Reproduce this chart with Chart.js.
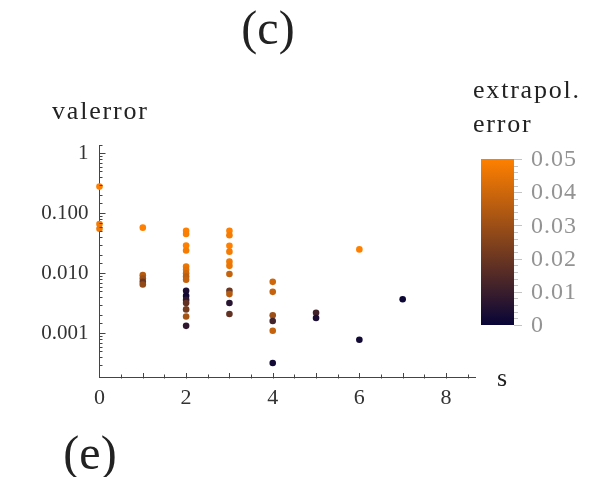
<!DOCTYPE html>
<html>
<head>
<meta charset="utf-8">
<script src="https://cdn.jsdelivr.net/npm/chart.js@4/dist/chart.umd.min.js"></script>
<style>
  html, body { margin: 0; padding: 0; background: #fff; }
  #wrap { width: 594px; height: 477px; }
</style>
</head>
<body>
<div id="wrap"><canvas id="grafico"></canvas></div>
<script>
// s value of each point
const sValues = [
  0, 0, 0,
  1, 1, 1, 1, 1,
  2, 2, 2, 2, 2, 2, 2, 2, 2, 2, 2, 2, 2, 2, 2, 2,
  3, 3, 3, 3, 3, 3, 3, 3, 3, 3, 3,
  4, 4, 4, 4, 4, 4,
  5, 5,
  6, 6,
  7
];
// valerror (y, log scale)
const valErrors = [
  0.278, 0.066, 0.055,
  0.0575, 0.0093, 0.0082, 0.0072, 0.0065,
  0.051, 0.045, 0.029, 0.024, 0.0129, 0.0114, 0.010, 0.0088, 0.0078,
  0.0051, 0.0042, 0.0036, 0.0032, 0.0025, 0.0019, 0.00133,
  0.051, 0.043, 0.0286, 0.0229, 0.0156, 0.0133, 0.0097, 0.0051, 0.0045, 0.0032, 0.0021,
  0.0072, 0.0049, 0.0020, 0.0016, 0.0011, 0.00032,
  0.0022, 0.0018,
  0.025, 0.00078,
  0.0037
];
// extrapolation error (colour)
const extrapErrors = [
  0.05, 0.048, 0.047,
  0.05, 0.035, 0.03, 0.02, 0.028,
  0.05, 0.049, 0.05, 0.048, 0.046, 0.044, 0.04, 0.036, 0.038,
  0.004, 0.002, 0.008, 0.018, 0.022, 0.032, 0.008,
  0.05, 0.048, 0.05, 0.048, 0.047, 0.046, 0.038, 0.02, 0.035, 0.006, 0.018,
  0.04, 0.038, 0.03, 0.012, 0.038, 0.002,
  0.012, 0.004,
  0.05, 0.002,
  0.001
];
const yTickLabels = { "0": "1", "-1": "0.100", "-2": "0.010", "-3": "0.001" };
const xTickLabels = [0, 2, 4, 6, 8];
const cbTicks = [0, 0.01, 0.02, 0.03, 0.04, 0.05];
const cbLabels = ["0", "0.01", "0.02", "0.03", "0.04", "0.05"];

const lowCol = [8, 5, 55];
const highCol = [255, 128, 0];
function colourFor(v) {
  const t = Math.max(0, Math.min(1, v / 0.05));
  const c = lowCol.map((a, i) => Math.round(a + (highCol[i] - a) * t));
  return "rgb(" + c.join(",") + ")";
}

const serif = "'Liberation Serif', 'DejaVu Serif', serif";
const points = sValues.map((s, i) => ({ x: s, y: valErrors[i] }));

const decorations = {
  id: "decorations",
  afterDraw(chart) {
    const ctx = chart.ctx;
    const xs = chart.scales.x, ys = chart.scales.y;
    const area = chart.chartArea;
    ctx.save();
    ctx.strokeStyle = "#444";
    ctx.lineWidth = 1;
    // y ticks (inside)
    ys.ticks.forEach(t => {
      const lg = Math.log10(t.value);
      const major = Math.abs(lg - Math.round(lg)) < 1e-6;
      const py = Math.round(ys.getPixelForValue(t.value)) + 0.5;
      if (py < area.top - 1) return;
      ctx.beginPath();
      ctx.moveTo(area.left, py);
      ctx.lineTo(area.left + (major ? 6 : 3), py);
      ctx.stroke();
    });
    // x ticks
    for (let v = 0.5; v <= xs.max; v += 0.5) {
      const px = Math.round(xs.getPixelForValue(v)) + 0.5;
      const major = Math.abs(v - Math.round(v)) < 1e-6;
      ctx.beginPath();
      ctx.moveTo(px, area.bottom + 1.5);
      ctx.lineTo(px, area.bottom - (major ? 4 : 2.5));
      ctx.stroke();
    }
    // colour bar
    const cbL = 481, cbR = 514, cbT = 159, cbB = 325;
    const g = ctx.createLinearGradient(0, cbB, 0, cbT);
    g.addColorStop(0, colourFor(0));
    g.addColorStop(1, colourFor(0.05));
    ctx.fillStyle = g;
    ctx.fillRect(cbL, cbT, cbR - cbL, cbB - cbT);
    ctx.strokeStyle = "#c4c4c4";
    for (let v = 0; v <= 0.0501; v += 0.002) {
      const py = Math.round(cbB - (cbB - cbT) * v / 0.05) + 0.5;
      const major = cbTicks.some(c => Math.abs(c - v) < 1e-6);
      ctx.beginPath();
      ctx.moveTo(cbR, py);
      ctx.lineTo(cbR + (major ? 8 : 4), py);
      ctx.stroke();
    }
    ctx.fillStyle = "#939393";
    ctx.font = "24px " + serif;
    ctx.letterSpacing = "1px";
    ctx.textBaseline = "middle";
    ctx.textAlign = "left";
    cbTicks.forEach((v, i) => {
      const py = cbB - (cbB - cbT) * v / 0.05;
      ctx.fillText(cbLabels[i], 531, py + 1);
    });
    // texts
    ctx.fillStyle = "#222";
    ctx.font = "26px " + serif;
    ctx.letterSpacing = "1.8px";
    ctx.fillText("valerror", 52, 112);
    ctx.fillText("extrapol.", 473, 91);
    ctx.fillText("error", 473, 125);
    ctx.letterSpacing = "0px";
    ctx.fillText("s", 497, 379);
    ctx.font = "48px " + serif;
    ctx.textAlign = "center";
    ctx.fillText("(c)", 268, 31);
    ctx.fillText("(e)", 90, 456);
    ctx.restore();
  }
};

new Chart(document.getElementById("grafico"), {
  type: "scatter",
  data: {
    datasets: [{
      data: points,
      backgroundColor: extrapErrors.map(colourFor),
      borderWidth: 0,
      pointRadius: 3.3,
      clip: false
    }]
  },
  options: {
    responsive: true,
    maintainAspectRatio: false,
    animation: false,
    layout: { padding: { left: 0, top: 145, right: 119, bottom: 0 } },
    plugins: { legend: { display: false }, tooltip: { enabled: false } },
    scales: {
      x: {
        type: "linear",
        min: 0,
        max: 8.67,
        grid: { display: false, drawTicks: false },
        border: { display: true, color: "#444", width: 1 },
        ticks: {
          stepSize: 2,
          includeBounds: false,
          padding: 8,
          color: "#333",
          font: { family: serif, size: 22 },
          callback: v => xTickLabels.includes(v) ? String(v) : ""
        },
        afterFit: s => { s.height = 100; }
      },
      y: {
        type: "logarithmic",
        min: 1.87e-4,
        max: 1.37,
        grid: { display: false, drawTicks: false },
        border: { display: true, color: "#444", width: 1 },
        ticks: {
          autoSkip: false,
          padding: 11,
          color: "#333",
          font: { family: serif, size: 21 },
          callback: v => {
            const lg = Math.log10(v);
            if (Math.abs(lg - Math.round(lg)) > 1e-6) return "";
            return yTickLabels[String(Math.round(lg))] || "";
          }
        },
        afterFit: s => { s.width = 99.5; }
      }
    }
  },
  plugins: [decorations]
});
</script>
</body>
</html>
